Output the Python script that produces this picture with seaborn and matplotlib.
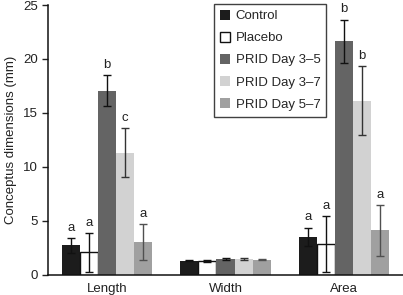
import numpy as np
import pandas as pd
import matplotlib
matplotlib.use("Agg")
import matplotlib.pyplot as plt
import seaborn as sns

# values
dims = ["Length", "Width", "Area"]
groups = ["Control", "Placebo", "PRID Day 3\u20135", "PRID Day 3\u20137", "PRID Day 5\u20137"]
means = {
    "Control":          [2.7, 1.28, 3.5],
    "Placebo":          [2.05, 1.25, 2.8],
    "PRID Day 3\u20135": [17.05, 1.44, 21.65],
    "PRID Day 3\u20137": [11.3, 1.42, 16.1],
    "PRID Day 5\u20137": [3.0, 1.38, 4.1],
}
errs = {
    "Control":          [0.7, 0.06, 0.85],
    "Placebo":          [1.8, 0.05, 2.6],
    "PRID Day 3\u20135": [1.45, 0.07, 2.0],
    "PRID Day 3\u20137": [2.25, 0.12, 3.2],
    "PRID Day 5\u20137": [1.65, 0.08, 2.35],
}
letters = {
    "Control":          ["a", "", "a"],
    "Placebo":          ["a", "", "a"],
    "PRID Day 3\u20135": ["b", "", "b"],
    "PRID Day 3\u20137": ["c", "", "b"],
    "PRID Day 5\u20137": ["a", "", "a"],
}

fills = ["#1c1c1c", "#ffffff", "#646464", "#d2d2d2", "#a0a0a0"]
ecols = ["#111111", "#111111", "#111111", "#333333", "#505050"]

rows = []
for g in groups:
    for d, m in zip(dims, means[g]):
        rows.append({"dim": d, "group": g, "value": m})
df = pd.DataFrame(rows)

sns.set_style("white")
plt.rcParams["font.family"] = ["Liberation Sans", "DejaVu Sans"]

fig = plt.figure(figsize=(4.03, 2.95), dpi=100)
ax = fig.add_axes([48 / 403, 1 - 274.5 / 295, 355 / 403, 269.5 / 295])

sns.barplot(data=df, x="dim", y="value", hue="group", order=dims,
            hue_order=groups, palette=fills, width=0.763, errorbar=None,
            saturation=1, ax=ax)

for bar in ax.patches:
    bar.set_edgecolor("none")

# patches come ordered by hue, then category
for gi, g in enumerate(groups):
    for di in range(len(dims)):
        bar = ax.patches[gi * len(dims) + di]
        x = bar.get_x() + bar.get_width() / 2
        m = means[g][di]
        e = errs[g][di]
        if g == "Placebo":
            bar.set_edgecolor("#111111")
            bar.set_linewidth(1.0)
        ax.errorbar(x, m, yerr=e, fmt="none", ecolor=ecols[gi],
                    elinewidth=1.0, capsize=3, capthick=1.0, zorder=5)
        if letters[g][di]:
            ax.text(x, m + e + 0.4, letters[g][di], ha="center", va="bottom",
                    fontsize=9.5, color="#222222")

ax.set_xlim(-0.5, 2.5)
ax.set_ylim(0, 25)
ax.set_yticks([0, 5, 10, 15, 20, 25])
ax.set_xlabel("")
ax.set_ylabel("Conceptus dimensions (mm)", fontsize=9.5, color="#222222")
ax.tick_params(axis="both", labelsize=9.5, colors="#222222", length=4,
               width=1, direction="out")
ax.tick_params(axis="x", length=0, pad=6)
ax.yaxis.set_ticks_position("left")
sns.despine(ax=ax)
for s in ["left", "bottom"]:
    ax.spines[s].set_color("#111111")
    ax.spines[s].set_linewidth(1.1)

handles = [plt.Rectangle((0, 0), 1, 1, facecolor=c,
                         edgecolor="#111111" if c == "#ffffff" else "none")
           for c in fills]
leg = ax.legend(handles, groups, loc="upper left",
                bbox_to_anchor=(166 / 355, 1.005), fontsize=9.5,
                frameon=True, fancybox=False, handlelength=0.8,
                handleheight=0.8, handletextpad=0.4, labelspacing=0.72,
                borderpad=0.45, borderaxespad=0)
leg.get_frame().set_edgecolor("#111111")
leg.get_frame().set_linewidth(1.0)

fig.savefig("out.png", dpi=100)
